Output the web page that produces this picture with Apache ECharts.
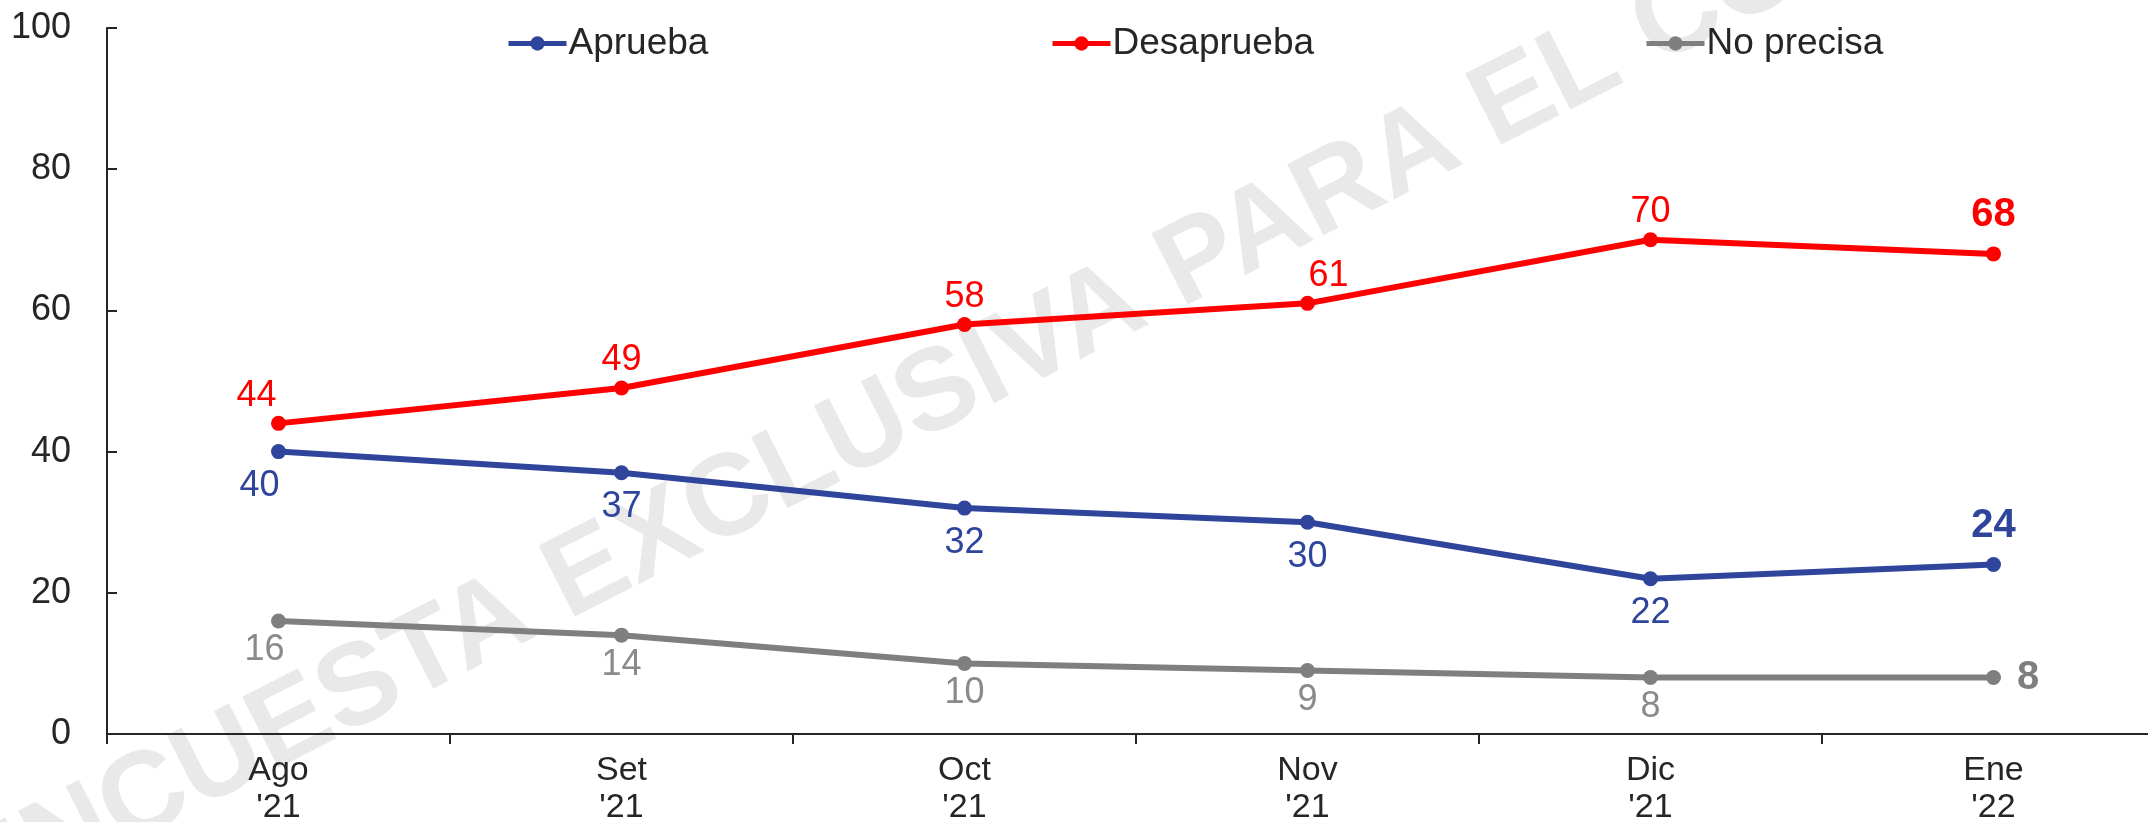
<!DOCTYPE html>
<html>
<head>
<meta charset="utf-8">
<script src="https://cdn.jsdelivr.net/npm/echarts@6/dist/echarts.min.js"></script>
<style>
html,body{margin:0;padding:0;background:#fff;}
#chart{width:2148px;height:822px;}
</style>
</head>
<body>
<div id="chart"></div>
<script>
// ---- data ----
const months = ['Ago', 'Set', 'Oct', 'Nov', 'Dic', 'Ene'];
const years = ["'21", "'21", "'21", "'21", "'21", "'22"];
const seriesNames = ['Aprueba', 'Desaprueba', 'No precisa'];
const aprueba = [40, 37, 32, 30, 22, 24];
const desaprueba = [44, 49, 58, 61, 70, 68];
const noPrecisa = [16, 14, 10, 9, 8, 8];
const watermarkText = 'ENCUESTA EXCLUSIVA PARA EL COMERCIO';

// ---- styles ----
const BLUE = '#2F459C', RED = '#FF0000', GRAY = '#7F7F7F', GRAY_LBL = '#8A8A8A';
const FONT = '"Liberation Sans", Arial, sans-serif';
const labelShiftA = [[-19, 0], [0, 0], [0, 0], [0, 0], [0, 0]];
const labelShiftD = [[-22, 0], [0, 0], [0, 0], [21, 0], [0, 0]];
const labelShiftN = [[-14, 0], [0, 0], [0, 0], [0, 0], [0, 0]];

const categories = months.map((m, i) => m + '\n' + years[i]);

function buildData(values, baseLabel, lastLabel, shifts) {
  return values.map((v, i) => {
    if (i === values.length - 1) return { value: v, label: lastLabel };
    return { value: v, label: Object.assign({}, baseLabel, { offset: shifts[i] || [0, 0] }) };
  });
}

function mkSeries(name, values, color, lblColor, basePos, baseDist, lastPos, lastDist, shifts) {
  const baseLabel = { show: true, position: basePos, distance: baseDist, color: lblColor,
    fontSize: 36, fontFamily: FONT, fontWeight: 'normal' };
  const lastLabel = { show: true, position: lastPos, distance: lastDist, color: color,
    fontSize: 40, fontFamily: FONT, fontWeight: 'bold' };
  return {
    name: name,
    type: 'line',
    data: buildData(values, baseLabel, lastLabel, shifts),
    symbol: 'circle',
    symbolSize: 15,
    lineStyle: { color: color, width: 6 },
    itemStyle: { color: color },
    label: baseLabel,
    z: 5
  };
}

const chart = echarts.init(document.getElementById('chart'), null, { renderer: 'canvas' });

const legendCommon = {
  top: 25,
  itemWidth: 58,
  itemHeight: 18,
  itemGap: 0,
  padding: 0,
  lineStyle: { width: 5 },
  textStyle: { fontSize: 37, color: '#262626', fontFamily: FONT, padding: [0, 0, 0, -3] }
};

const rot = 27 * Math.PI / 180;

chart.setOption({
  animation: false,
  backgroundColor: '#ffffff',
  graphic: [{
    type: 'text',
    silent: true,
    x: -36,
    y: 892,
    rotation: rot,
    z: -10,
    style: {
      text: watermarkText,
      font: 'bold 116px ' + FONT,
      fill: '#E9E9E9',
      textAlign: 'left',
      textVerticalAlign: 'middle'
    }
  }],
  legend: [
    Object.assign({}, legendCommon, { data: [seriesNames[0]], left: 506 }),
    Object.assign({}, legendCommon, { data: [seriesNames[1]], left: 1050 }),
    Object.assign({}, legendCommon, { data: [seriesNames[2]], left: 1644 })
  ],
  grid: { left: 107, top: 28, bottom: 88, right: -17, outerBoundsMode: 'none', containLabel: false },
  xAxis: {
    type: 'category',
    data: categories,
    boundaryGap: true,
    axisLine: { show: true, lineStyle: { color: '#262626', width: 2 } },
    axisTick: { show: true, inside: false, length: 10, alignWithLabel: false, lineStyle: { color: '#262626', width: 2 } },
    axisLabel: { fontSize: 34, color: '#262626', fontFamily: FONT, margin: 18, lineHeight: 37 },
    splitLine: { show: false }
  },
  yAxis: {
    type: 'value',
    min: 0,
    max: 100,
    interval: 20,
    axisLine: { show: true, lineStyle: { color: '#262626', width: 2 } },
    axisTick: { show: true, inside: true, length: 10, lineStyle: { color: '#262626', width: 2 } },
    axisLabel: { fontSize: 36, color: '#262626', fontFamily: FONT, margin: 36 },
    splitLine: { show: false }
  },
  series: [
    mkSeries(seriesNames[0], aprueba, BLUE, BLUE, 'bottom', 9, 'top', 11, labelShiftA),
    mkSeries(seriesNames[1], desaprueba, RED, RED, 'top', 2, 'top', 11, labelShiftD),
    mkSeries(seriesNames[2], noPrecisa, GRAY, GRAY_LBL, 'bottom', 4, 'right', 16, labelShiftN)
  ]
});
</script>
</body>
</html>
